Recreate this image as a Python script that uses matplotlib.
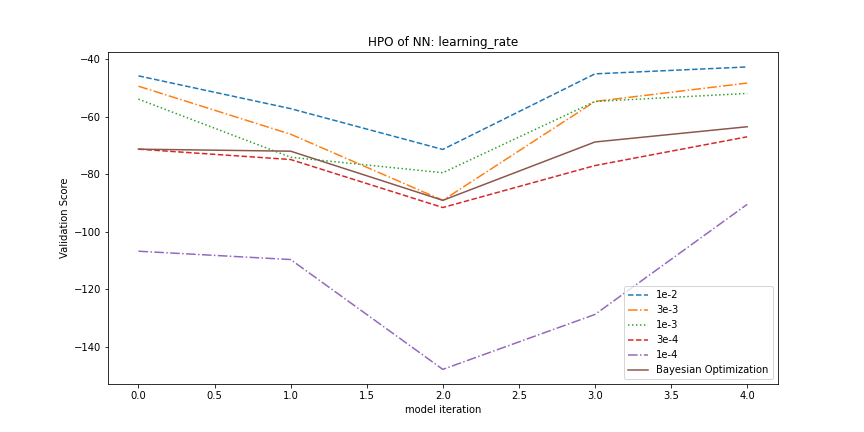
import matplotlib
matplotlib.use("Agg")
import matplotlib.pyplot as plt

iterations = [0, 1, 2, 3, 4]
lr_1e2 = [-45.7, -57.1, -71.3, -45.0, -42.6]
lr_3e3 = [-49.3, -66.0, -89.0, -54.6, -48.2]
lr_1e3 = [-53.8, -74.0, -79.4, -54.6, -51.8]
lr_3e4 = [-71.2, -74.8, -91.5, -76.9, -66.9]
lr_1e4 = [-106.7, -109.6, -147.8, -128.7, -90.4]
bayes = [-71.2, -71.9, -89.0, -68.7, -63.4]

fig, ax = plt.subplots(figsize=(12, 6), dpi=72)
ax.plot(iterations, lr_1e2, "--", label="1e-2")
ax.plot(iterations, lr_3e3, "-.", label="3e-3")
ax.plot(iterations, lr_1e3, ":", label="1e-3")
ax.plot(iterations, lr_3e4, "--", label="3e-4")
ax.plot(iterations, lr_1e4, "-.", label="1e-4")
ax.plot(iterations, bayes, "-", label="Bayesian Optimization")
ax.set_title("HPO of NN: learning_rate")
ax.set_xlabel("model iteration")
ax.set_ylabel("Validation Score")
ax.legend(loc="lower right")
plt.savefig("out.png")
